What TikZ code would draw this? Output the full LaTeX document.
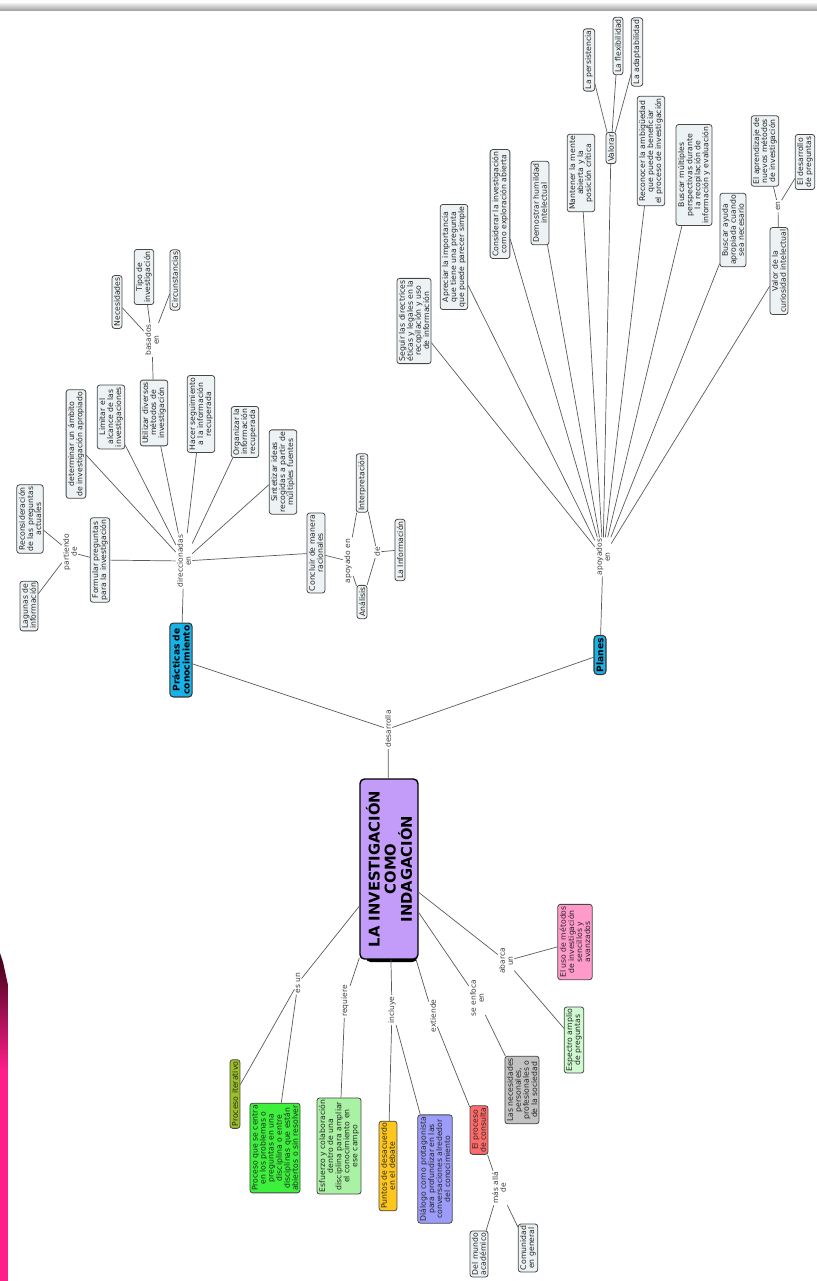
\documentclass[tikz,border=0pt]{standalone}
\usepackage{fontspec}
\setmainfont{DejaVu Sans}
\usepackage{xcolor}
\usepackage{tikz}
\definecolor{custom_purple}{HTML}{C29CF8}
\definecolor{custom_cyan}{HTML}{19B2E6}
\definecolor{custom_olive}{HTML}{9DBF26}
\definecolor{custom_green}{HTML}{3CF03C}
\definecolor{custom_mint}{HTML}{A9F2A3}
\definecolor{custom_gold}{HTML}{FFC61E}
\definecolor{custom_lilac}{HTML}{9C9CFA}
\definecolor{custom_red}{HTML}{FF6B6B}
\definecolor{custom_gray}{HTML}{C2C2C2}
\definecolor{custom_pink}{HTML}{FF9ACB}
\definecolor{custom_lightgreen}{HTML}{CFFACF}
\definecolor{box_gray}{HTML}{EDF2F4}
\definecolor{line_gray}{HTML}{5A5A5A}
\definecolor{pink_dark}{HTML}{3A0016}
\definecolor{pink_hot}{HTML}{FF1F8A}

\begin{document}
\begin{tikzpicture}[x=0.02cm, y=-0.02cm,
    concept/.style={draw=gray!55!black, fill=box_gray, rounded corners=1.5pt, rotate=90, align=center,
      inner sep=1.1pt, line width=0.45pt, text=black!85, font=\fontsize{4.4}{4.6}\selectfont},
    linkword/.style={rotate=90, align=center, inner sep=0.6pt, text=black!75, font=\fontsize{4.3}{4.5}\selectfont},
    topic/.style={draw=black!80, fill=custom_cyan, rounded corners=2pt, rotate=90, align=center,
      inner sep=1.4pt, line width=0.6pt, font=\bfseries\fontsize{5.2}{5.6}\selectfont},
    central/.style={draw=black, fill=custom_purple, rounded corners=2.5pt, rotate=90, align=center,
      line width=0.8pt, minimum width=3.6cm, minimum height=1.02cm, font=\bfseries\fontsize{8.4}{9.2}\selectfont},
    link/.style={draw=line_gray, line width=0.4pt}]

    \useasboundingbox (0,0) rectangle (817,1281);
    % frame decoration - grey bar on top, pink stripe on the left
    \shade[top color=gray!12, bottom color=gray!70] (0,3) rectangle (817,10);
    \shade[top color=pink_dark, bottom color=pink_hot] (0,953) -- (3,962) -- (8,985) -- (8,1070) -- (0,1070) -- cycle;
    \fill[pink_hot] (0,1069) rectangle (8,1281);

    % main concept, with its dark shadow
    \fill[black, rounded corners=2.5pt] (366,781) rectangle (417,962);
    \node[central] (main) at (389,869) {LA INVESTIGACIÓN\\COMO\\INDAGACIÓN};
    \node[linkword] (desarrolla) at (388,729) {desarrolla};
    \node[topic] (practicas) at (181,660) {Prácticas de\\conocimiento};
    \node[topic] (planes) at (600,655) {Planes};
    \draw[link] (main) -- (desarrolla);
    \draw[link] (desarrolla) -- (practicas);
    \draw[link] (desarrolla) -- (planes);

    % Prácticas de conocimiento branch
    \begin{scope}
      \node[linkword] (direcc) at (184,561) {direccionadas\\en};
      \node[concept] (formular) at (100,560) {Formular preguntas\\para la investigación};
      \node[concept] (ambito) at (76,444) {determinar un ámbito\\de investigación apropiado};
      \node[concept] (limitar) at (111,417) {Limitar el\\alcance de las\\investigaciones};
      \node[concept] (utilizar) at (154,413) {Utilizar diversos\\métodos de\\investigación};
      \node[concept] (seguimiento) at (201,414) {Hacer seguimiento\\a la información\\recuperada};
      \node[concept] (organizar) at (245,432) {Organizar la\\información\\recuperada};
      \node[concept] (sintetizar) at (283,472) {Sintetizar ideas\\recogidas a partir de\\múltiples fuentes};
      \node[concept] (concluir) at (316,553) {Concluir de manera\\racionales};
      \draw[link] (practicas) -- (direcc);
      \foreach \n in {formular, ambito, limitar, utilizar, seguimiento, organizar, sintetizar, concluir}
        \draw[link] (direcc) -- (\n);

      % basados en
      \node[linkword] (basados) at (152,340) {basados\\en};
      \node[concept] (necesidades) at (117,302) {Necesidades};
      \node[concept] (tipo) at (144,277) {Tipo de\\investigación};
      \node[concept] (circunstancias) at (175,280) {Circunstancias};
      \draw[link] (utilizar) -- (basados);
      \foreach \n in {necesidades, tipo, circunstancias}
        \draw[link] (basados) -- (\n);

      % partiendo de
      \node[linkword] (partiendo) at (70,552) {partiendo\\de};
      \node[concept] (reconsideracion) at (30,519) {Reconsideración\\de las preguntas\\actuales};
      \node[concept] (lagunas) at (29,606) {Lagunas de\\información};
      \draw[link] (formular) -- (partiendo);
      \draw[link] (partiendo) -- (reconsideracion);
      \draw[link] (partiendo) -- (lagunas);

      % apoyado en
      \node[linkword] (apoyado) at (348,561) {apoyado en};
      \node[concept] (interpretacion) at (362,483) {Interpretación};
      \node[concept] (analisis) at (362,602) {Análisis};
      \node[linkword] (deinfo) at (377,552) {de};
      \node[concept] (informacion) at (400,550) {La Información};
      \draw[link] (concluir) -- (apoyado);
      \draw[link] (apoyado) -- (interpretacion);
      \draw[link] (apoyado) -- (analisis);
      \draw[link] (interpretacion) -- (deinfo);
      \draw[link] (analisis) -- (deinfo);
      \draw[link] (deinfo) -- (informacion);
    \end{scope}

    % Planes branch
    \begin{scope}
      \node[linkword] (apoyados) at (603,557) {apoyados\\en};
      \node[concept] (directrices) at (414,321) {Seguir las directrices\\éticas y legales en la\\recopilación y uso\\de información};
      \node[concept] (apreciar) at (454,257) {Apreciar la importancia\\que tiene una pregunta\\que puede parecer simple};
      \node[concept] (considerar) at (500,204) {Considerar la investigación\\como exploración abierta};
      \node[concept] (humildad) at (540,203) {Demostrar humildad\\intelectual};
      \node[concept] (mente) at (581,173) {Mantener la mente\\abierta y la\\posición crítica};
      \node[concept] (valorar) at (611,148) {Valorar};
      \node[concept] (ambiguedad) at (651,151) {Reconocer la ambigüedad\\que puede beneficiar\\el proceso de investigación};
      \node[concept] (perspectivas) at (694,175) {Buscar múltiples\\perspectivas durante\\la recopilación de\\información y evaluación};
      \node[concept] (ayuda) at (733,230) {Buscar ayuda\\apropiada cuando\\sea necesario};
      \node[concept] (curiosidad) at (779,271) {Valor de la\\curiosidad intelectual};
      \draw[link] (planes) -- (apoyados);
      \foreach \n in {directrices, apreciar, considerar, humildad, mente, valorar, ambiguedad, perspectivas, ayuda, curiosidad}
        \draw[link] (apoyados) -- (\n);

      % Valorar
      \node[concept] (persistencia) at (589,60) {La persistencia};
      \node[concept] (flexibilidad) at (618,46) {La flexibilidad};
      \node[concept] (adaptabilidad) at (637,52) {La adaptabilidad};
      \foreach \n in {persistencia, flexibilidad, adaptabilidad}
        \draw[link] (valorar) -- (\n);

      % curiosidad en
      \node[linkword] (encuriosidad) at (778,206) {en};
      \node[concept] (aprendizaje) at (765,151) {El aprendizaje de\\nuevos métodos\\de investigación};
      \node[concept] (desarrollo) at (805,162) {El desarrollo\\de preguntas};
      \draw[link] (curiosidad) -- (encuriosidad);
      \draw[link] (encuriosidad) -- (aprendizaje);
      \draw[link] (encuriosidad) -- (desarrollo);
    \end{scope}

    % lower branches of the main concept
    \begin{scope}
      \node[linkword] (esun) at (298,983) {es un};
      \node[concept, fill=custom_olive] (iterativo) at (235,1094) {Proceso iterativo};
      \node[concept, fill=custom_green] (centra) at (275,1148) {Proceso que se centra\\en los problemas o\\preguntas en una\\disciplina o entre\\disciplinas que están\\abiertos o sin resolver};
      \draw[link] (main) -- (esun);
      \draw[link] (esun) -- (iterativo);
      \draw[link] (esun) -- (centra);

      \node[linkword] (requiere) at (345,1001) {requiere};
      \node[concept, fill=custom_mint] (esfuerzo) at (339,1146) {Esfuerzo y colaboración\\dentro de una\\disciplina para ampliar\\el conocimiento en\\ese campo};
      \draw[link] (main) -- (requiere);
      \draw[link] (requiere) -- (esfuerzo);

      \node[linkword] (incluye) at (392,1010) {incluye};
      \node[concept, fill=custom_gold] (puntos) at (388,1166) {Puntos de desacuerdo\\en el debate};
      \node[concept, fill=custom_lilac] (dialogo) at (435,1169) {Diálogo como protagonista\\para profundizar en las\\conversaciones alrededor\\del conocimiento};
      \draw[link] (main) -- (incluye);
      \draw[link] (incluye) -- (puntos);
      \draw[link] (incluye) -- (dialogo);

      \node[linkword] (extiende) at (433,1016) {extiende};
      \node[concept, fill=custom_red] (consulta) at (479,1130) {El proceso\\de consulta};
      \node[linkword] (masalla) at (499,1188) {más allá\\de};
      \node[concept] (academico) at (479,1254) {Del mundo\\académico};
      \node[concept] (comunidad) at (528,1248) {Comunidad\\en general};
      \draw[link] (main) -- (extiende);
      \draw[link] (extiende) -- (consulta);
      \draw[link] (consulta) -- (masalla);
      \draw[link] (masalla) -- (academico);
      \draw[link] (masalla) -- (comunidad);

      \node[linkword] (enfoca) at (477,998) {se enfoca\\en};
      \node[concept, fill=custom_gray] (sociedad) at (522,1090) {Las necesidades\\personales,\\profesionales o\\de la sociedad};
      \draw[link] (main) -- (enfoca);
      \draw[link] (enfoca) -- (sociedad);

      \node[linkword] (abarca) at (506,961) {abarca\\un};
      \node[concept, fill=custom_pink] (metodos) at (575,942) {El uso de métodos\\de investigación\\sencillos y\\avanzados};
      \node[concept, fill=custom_lightgreen] (espectro) at (574,1040) {Espectro amplio\\de preguntas};
      \draw[link] (main) -- (abarca);
      \draw[link] (abarca) -- (metodos);
      \draw[link] (abarca) -- (espectro);
    \end{scope}
  \end{tikzpicture}
\end{document}
